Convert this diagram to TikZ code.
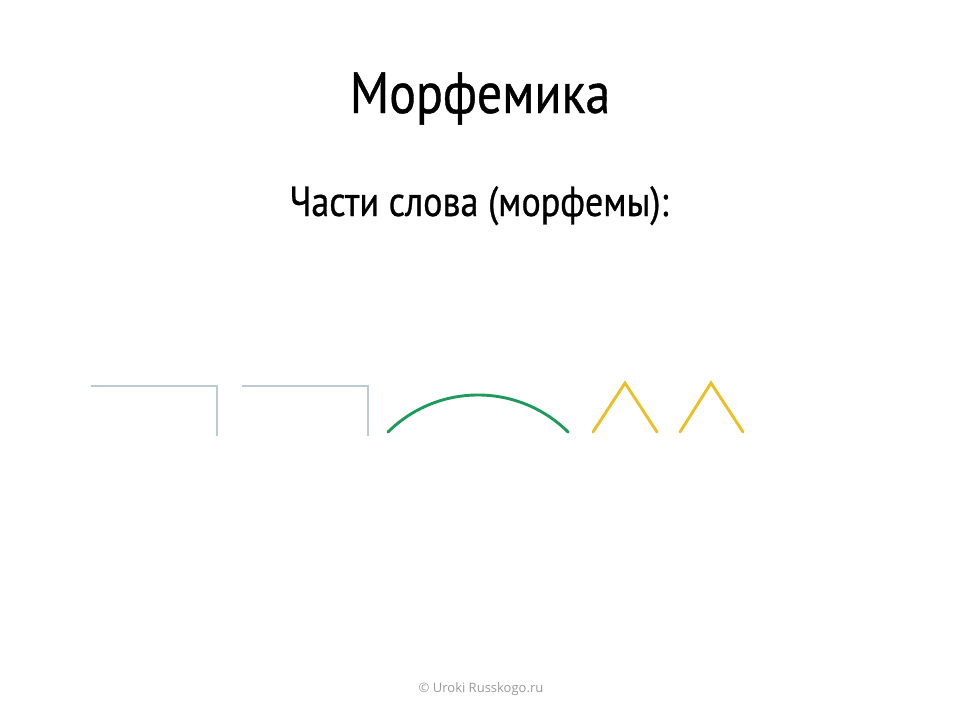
\documentclass[tikz,border=0pt]{standalone}
\usepackage{fontspec}
\setmainfont[FakeStretch=0.86, FakeBold=0.7]{PT Sans}
\newfontfamily\creditfont{Open Sans}
\usepackage{tikz}

\definecolor{rootgray}{HTML}{BCCBD2}
\definecolor{arcgreen}{HTML}{1E9A5C}
\definecolor{suffyellow}{HTML}{E9C126}
\definecolor{creditgray}{HTML}{9A9A9A}

\tikzset{
    morph/.style={line width=2.9pt, line cap=round, line join=miter},
    caption/.style={inner sep=0pt, anchor=base}
}

\begin{document}
\begin{tikzpicture}[x=1pt, y=-1pt]
        \useasboundingbox[fill=white] (0,0) rectangle (960,720);

        \node[caption, font=\fontsize{58}{60}\selectfont] (title) at (480, 113) {Морфемика};
        \node[caption, font=\fontsize{42}{44}\selectfont] (subtitle) at (479, 216) {Части слова (морфемы):};
        \node[caption, font=\creditfont\fontsize{13}{15}\selectfont, text=creditgray] (credit) at (481, 692) {© Uroki Russkogo.ru};

        % prefixes
        \draw[morph, rootgray, line cap=butt] (91, 386) -- (217, 386) -- (217, 436);
        \draw[morph, rootgray, line cap=butt] (242, 386) -- (368, 386) -- (368, 436);

        % root
        \draw[morph, arcgreen] (388, 432) arc[start angle=225.3, end angle=314.7, radius=128];

        % suffixes
        \draw[morph, suffyellow] (593, 432) -- (625, 383) -- (657, 432);
        \draw[morph, suffyellow] (680, 432) -- (711, 383) -- (743, 432);
    \end{tikzpicture}
\end{document}
